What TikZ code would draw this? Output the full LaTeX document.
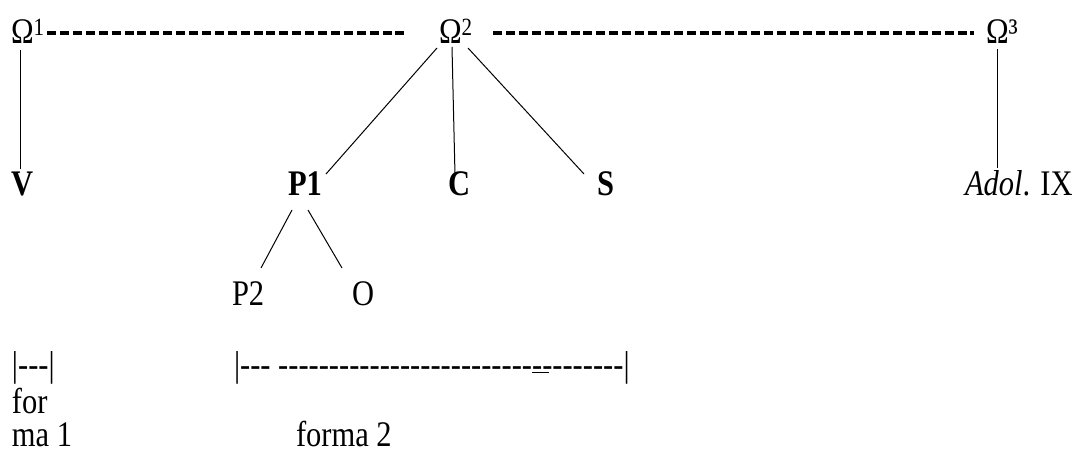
\documentclass[tikz,border=0pt]{standalone}
\usepackage{fontspec}
\setmainfont{Liberation Serif}[Ligatures=TeXOff]
\usepackage{graphicx}
\usetikzlibrary{calc}
\newcommand\vs[1]{\scalebox{1}[1.18]{#1}}
\newcommand\supr[1]{\raisebox{7pt}{\fontsize{21}{21}\selectfont #1}}
\newcommand\hyphs[1]{\foreach \k in {1,...,#1}{-}}
\begin{document}
\begin{tikzpicture}[x=1pt,y=-1pt,
  txt/.style={anchor=base west,inner sep=0pt,outer sep=0pt,font=\fontsize{30.5}{36}\selectfont},
  conn/.style={line width=1pt},
  bolddash/.style={line width=3.1pt,dash pattern=on 9pt off 3.9pt}]
\useasboundingbox (0,0) rectangle (1082,452);
% top row
\node[txt] (o1) at (11,44) {\vs{Ω\supr{1}}};
\node[txt] (o2) at (439,44) {\vs{Ω\supr{2}}};
\node[txt] (o3) at (986,44) {\vs{Ω³}};
% second row
\node[txt] (V) at (11,195) {\vs{\textbf{V}}};
\node[txt] (P1) at (288,195) {\vs{\textbf{P1}}};
\node[txt] (C) at (448,195) {\vs{\textbf{C}}};
\node[txt] (S) at (597,195) {\vs{\textbf{S}}};
\node[txt] (A) at (965,195) {\vs{\textit{Adol}. IX}};
% third row
\node[txt] (P2) at (232,305) {\vs{P2}};
\node[txt] (O) at (352,305) {\vs{O}};
% bottom
\node[txt] (b1) at (12,376) {\vs{|---|}};
\node[txt] (b2) at (234,376) {\vs{|--- ----------------------------------|}};
\node[txt] (f1) at (12,413) {\vs{for}};
\node[txt] (f2) at (12,446) {\vs{ma 1}};
\node[txt] (f3) at (296,446) {\vs{forma 2}};
% double underline mark in the second bracket
\draw[line width=1.6pt] ($(b2.base west)+(298,-3.5)$) -- ($(b2.base west)+(315,-3.5)$);
% dashed links
\draw[bolddash] ($(o1.base east)+(3,-11)$) -- ($(o2.base west)+(-31,-11)$);
\draw[bolddash] ($(o2.base east)+(21,-11)$) -- ($(o3.base west)+(-12,-11)$);
% connectors
\draw[conn] ($(o1.base west)+(9.5,6)$) -- ($(V.base west)+(9.5,-26)$);
\draw[conn] ($(o2.base west)+(-2,4)$) -- ($(P1.base west)+(38,-21)$);
\draw[conn] ($(o2.base west)+(13,3)$) -- ($(C.base west)+(7,-20)$);
\draw[conn] ($(o2.base west)+(29,4)$) -- ($(S.base west)+(-13,-21)$);
\draw[conn] ($(o3.base west)+(11,5)$) -- ($(A.base west)+(32,-27)$);
\draw[conn] ($(P1.base west)+(4,15)$) -- ($(P2.base west)+(29,-37)$);
\draw[conn] ($(P1.base west)+(20,15)$) -- ($(O.base west)+(-10,-37)$);
\end{tikzpicture}
\end{document}
